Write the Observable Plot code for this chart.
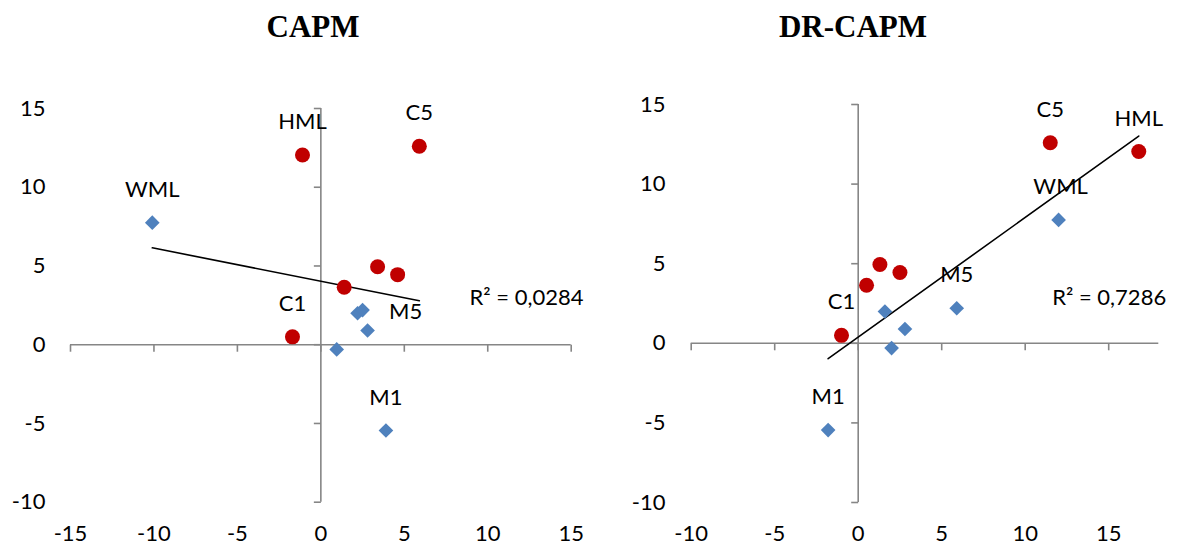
<!DOCTYPE html>
<html>
<head>
<meta charset="utf-8">
<script src="https://cdn.jsdelivr.net/npm/d3@7"></script>
<script src="https://cdn.jsdelivr.net/npm/@observablehq/plot@0.6"></script>
<style>
  body { margin: 0; background: #fff; }
  #wrap { position: relative; width: 1178px; height: 547px; overflow: hidden; background: #fff; }
  .title { position: absolute; top: 11px; width: 300px; text-align: center; line-height: 1;
           font-family: "Liberation Serif", "Times New Roman", serif; font-weight: bold; font-size: 31px; color: #000; }
  .panel { position: absolute; top: 60px; }
  .panel svg { overflow: visible; }
</style>
</head>
<body>
<div id="wrap"></div>
<script>
// ---- data ----
const titles = ["CAPM", "DR-CAPM"];

// Red circles: size-sorted portfolios C1..C5 and HML
const redNames   = ["C1", "C2", "C3", "C4", "C5", "HML"];
const redReturn  = [0.5, 3.65, 4.95, 4.45, 12.6, 12.05];
const redBetaCAPM = [-1.7, 1.4, 3.4, 4.6, 5.9, -1.1];
const redBetaDR   = [-1.0, 0.5, 1.3, 2.5, 11.5, 16.8];

// Blue diamonds: momentum portfolios M1..M5 and WML
const blueNames   = ["M1", "M2", "M3", "M4", "M5", "WML"];
const blueReturn  = [-5.45, -0.3, 0.9, 2.0, 2.2, 7.75];
const blueBetaCAPM = [3.9, 0.95, 2.8, 2.2, 2.5, -10.1];
const blueBetaDR   = [-1.8, 2.0, 2.8, 1.6, 5.9, 12.0];

const labelled = ["C1", "C5", "HML", "M1", "M5", "WML"];
const r2Text = ["R\u00B2 = 0,0284", "R\u00B2 = 0,7286"];

const xTicksCAPM = [-15, -10, -5, 0, 5, 10, 15];
const xTicksDR   = [-10, -5, 0, 5, 10, 15];
const yTicks     = [-10, -5, 0, 5, 10, 15];
const xDomainCAPM = [-15, 15];
const xDomainDR   = [-10, 18];
const yDomain     = [-10, 15];

// ---- styling ----
const RED = "#C00000", BLUE = "#4F81BD", AXIS = "#868686";
const FONT = "Lato, 'Open Sans', sans-serif";

const tickDown = { draw(ctx) { ctx.moveTo(0, 0); ctx.lineTo(0, 7); } };
const tickLeft = { draw(ctx) { ctx.moveTo(0, 0); ctx.lineTo(-7, 0); } };

function makePanel(cfg) {
  const reds  = redNames.map((n, i) => ({ name: n, x: cfg.redBeta[i], y: redReturn[i] }));
  const blues = blueNames.map((n, i) => ({ name: n, x: cfg.blueBeta[i], y: blueReturn[i] }));
  const all = reds.concat(blues);
  const labelMarks = all.filter(d => labelled.includes(d.name)).map(d => {
    const off = cfg.offsets[d.name] || [0, -33];
    return Plot.text([d], { x: "x", y: "y", text: "name", dx: off[0], dy: off[1],
      fontSize: 22, fill: "#000", textAnchor: "middle", lineAnchor: "middle" });
  });
  return Plot.plot({
    width: 589, height: 487,
    marginLeft: cfg.ml, marginRight: cfg.mr, marginTop: cfg.mt, marginBottom: cfg.mb,
    style: { fontFamily: FONT, fontSize: "22px", color: "#000", background: "transparent", overflow: "visible" },
    x: { domain: cfg.xDomain, ticks: cfg.xTicks, tickFormat: d => String(d), tickSize: 0, tickPadding: 23, label: null },
    y: { domain: yDomain, ticks: yTicks, tickFormat: d => String(d), tickSize: 0, tickPadding: cfg.ytp, label: null },
    marks: [
      Plot.ruleY([0], { x1: cfg.xDomain[0], x2: cfg.xDomain[1], stroke: AXIS, strokeWidth: 1.6 }),
      Plot.ruleX([0], { y1: yDomain[0], y2: yDomain[1], stroke: AXIS, strokeWidth: 1.6 }),
      Plot.dot(cfg.xTicks, { x: d => d, y: 0, symbol: tickDown, r: 3, fill: "none", stroke: AXIS, strokeWidth: 1.6 }),
      Plot.dot(yTicks, { x: 0, y: d => d, symbol: tickLeft, r: 3, fill: "none", stroke: AXIS, strokeWidth: 1.6 }),
      Plot.linearRegressionY(all, { x: "x", y: "y", ci: 0, stroke: "#000", strokeWidth: 1.6 }),
      Plot.dot(blues, { x: "x", y: "y", symbol: "diamond2", r: 6.6, fill: BLUE, stroke: "none" }),
      Plot.dot(reds, { x: "x", y: "y", r: 7.5, fill: RED, stroke: "none" }),
      ...labelMarks,
      Plot.text([cfg.r2], { frameAnchor: "top-left", text: d => d, textAnchor: "start", lineAnchor: "middle",
        dx: cfg.r2dx, dy: cfg.r2dy, fontSize: 22, fill: "#000" })
    ]
  });
}

const wrap = document.getElementById("wrap");

const panels = [
  { title: titles[0], titleCx: 313, left: 0,
    redBeta: redBetaCAPM, blueBeta: blueBetaCAPM, xDomain: xDomainCAPM, xTicks: xTicksCAPM,
    ml: 70, mr: 18.3, mt: 48, mb: 45.3, ytp: 25, r2: r2Text[0], r2dx: 399, r2dy: 189,
    offsets: { M5: [43, 2] } },
  { title: titles[1], titleCx: 853, left: 589,
    redBeta: redBetaDR, blueBeta: blueBetaDR, xDomain: xDomainDR, xTicks: xTicksDR,
    ml: 101.7, mr: 19.7, mt: 44, mb: 45, ytp: 25.7, r2: r2Text[1], r2dx: 361, r2dy: 193,
    offsets: { WML: [2, -33] } }
];

for (const p of panels) {
  const t = document.createElement("div");
  t.className = "title";
  t.textContent = p.title;
  t.style.left = (p.titleCx - 150) + "px";
  wrap.appendChild(t);
  const holder = document.createElement("div");
  holder.className = "panel";
  holder.style.left = p.left + "px";
  holder.appendChild(makePanel(p));
  wrap.appendChild(holder);
}
</script>
</body>
</html>
